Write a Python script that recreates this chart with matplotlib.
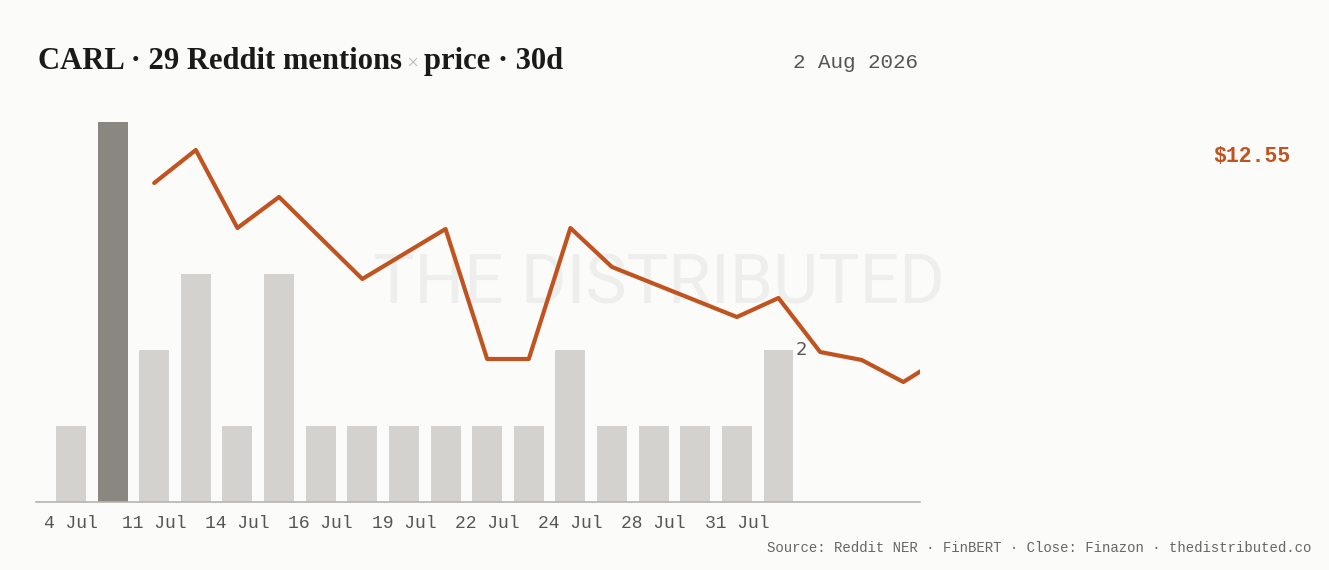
import numpy as np
import matplotlib
matplotlib.use("Agg")
import matplotlib.pyplot as plt

# data
mentions = [1, 5, 2, 3, 1, 3, 1, 1, 1, 1, 1, 1, 2, 1, 1, 1, 1, 2]
highlight_idx = 1

price_idx = [2, 3, 4, 5, 7, 9, 10, 11, 12, 13, 16, 17, 18, 19, 20, 21]
price = [14.28, 14.61, 13.83, 14.14, 13.32, 13.82, 12.52, 12.52,
         13.83, 13.44, 12.94, 13.13, 12.59, 12.51, 12.29, 12.55]

tick_pos = [0, 2, 4, 6, 8, 10, 12, 14, 16]
tick_labels = ["4 Jul", "11 Jul", "14 Jul", "16 Jul", "19 Jul",
               "22 Jul", "24 Jul", "28 Jul", "31 Jul"]

last_price_label = "$12.55"
date_label = "2 Aug 2026"
source = "Source: Reddit NER · FinBERT · Close: Finazon · thedistributed.co"

BG = "#fbfbf9"
BAR = "#d3d2ce"
BAR_HI = "#8a8680"
LINE = "#c0531f"
MONO = ["Liberation Mono", "DejaVu Sans Mono"]

fig = plt.figure(figsize=(13.29, 5.70), dpi=100, facecolor=BG)
W, H = 1329, 570

ax = fig.add_axes([36 / W, (570 - 502) / H, (920 - 36) / W, 402 / H])
ax.set_facecolor("none")

# watermark, behind bars and line
ax.text(659 / W, 1 - 285 / H, "THE DISTRIBUTED", fontsize=50, color="#eeeeec",
        family=["Roboto", "DejaVu Sans"], ha="center", va="center",
        transform=fig.transFigure, zorder=1, clip_on=False)

x = np.arange(len(mentions))
colors = [BAR_HI if i == highlight_idx else BAR for i in x]
ax.bar(x, mentions, width=0.72, color=colors, zorder=2)
ax.set_xlim(-0.84, 20.4)
ax.set_ylim(0, 5.29)
ax.text(x[-1] + 0.42, mentions[-1], str(mentions[-1]), fontsize=13, color="#555555",
        ha="left", va="center", family="DejaVu Sans", zorder=4)

ax2 = ax.twinx()
ax2.plot(price_idx, price, color=LINE, lw=3, solid_joinstyle="round",
         solid_capstyle="round", zorder=3)
ax2.set_ylim(11.09, 15.11)
ax2.set_xlim(-0.84, 20.4)

for a in (ax, ax2):
    for s in a.spines.values():
        s.set_visible(False)
    a.set_yticks([])
ax.spines["bottom"].set_visible(True)
ax.spines["bottom"].set_color("#b5b4b0")
ax.spines["bottom"].set_linewidth(1.2)
ax.set_xticks(tick_pos)
ax.set_xticklabels(tick_labels, family=MONO, fontsize=13, color="#555555")
ax.tick_params(axis="x", length=0, pad=9)

fig.text(1290 / W, 1 - 157 / H, last_price_label, family=MONO, fontsize=15.5,
         color=LINE, ha="right", va="center", fontweight="bold")
fig.text(918 / W, 1 - 63 / H, date_label, family=MONO, fontsize=15,
         color="#555555", ha="right", va="center")
fig.text(1311 / W, 1 - 548 / H, source, family=MONO, fontsize=10.05,
         color="#666666", ha="right", va="center")

# title in pieces
title_parts = [("CARL · 29 Reddit mentions", "#1a1a1a", 22.1, "bold"),
               (" × ", "#bbbbbb", 15, "normal"),
               ("price · 30d", "#1a1a1a", 22.1, "bold")]
fig.canvas.draw()
r = fig.canvas.get_renderer()
xpos = 38
for txt, col, fs, fw in title_parts:
    t = fig.text(xpos / W, 1 - 69 / H, txt, color=col, fontsize=fs, fontweight=fw,
                 family=["Liberation Serif", "DejaVu Serif"], ha="left", va="baseline")
    bb = t.get_window_extent(renderer=r)
    xpos += bb.width

fig.savefig("out.png", dpi=100, facecolor=BG)
